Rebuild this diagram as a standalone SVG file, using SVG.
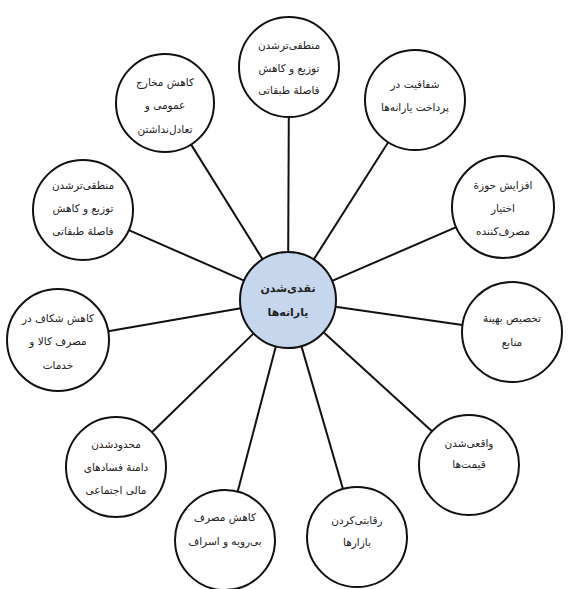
<svg xmlns="http://www.w3.org/2000/svg" width="569" height="589" viewBox="0 0 569 589">
<style>
.n circle{fill:#fff;stroke:#111;stroke-width:2}
.c circle{fill:#c6d6ec;stroke:#111;stroke-width:2}
text{font-family:"DejaVu Sans",sans-serif;font-size:10.5px;fill:#222;text-anchor:middle}
.c text{font-weight:bold;font-size:11px}
#spokes line{stroke:#111;stroke-width:2}
</style>
<rect width="569" height="589" fill="#fff"/>
<g id="spokes">
<line x1="288.2" y1="252" x2="288.8" y2="117"/>
<line x1="313.7" y1="259.5" x2="388.2" y2="142.2"/>
<line x1="332.1" y1="280.9" x2="456.2" y2="227.2"/>
<line x1="335.5" y1="306.8" x2="462.5" y2="324.9"/>
<line x1="323.5" y1="332.3" x2="432" y2="431.3"/>
<line x1="301.4" y1="346.1" x2="343" y2="489"/>
<line x1="275.8" y1="346.4" x2="237.7" y2="491.6"/>
<line x1="253.6" y1="333.4" x2="151.9" y2="432.2"/>
<line x1="240.7" y1="308.2" x2="108.2" y2="331.3"/>
<line x1="244.1" y1="280.7" x2="128.8" y2="230.1"/>
<line x1="262.6" y1="259.3" x2="191" y2="144.4"/>
</g>
<g id="center" class="c"><circle cx="288" cy="300" r="48"/>
<text x="288" y="292">نقدی‌شدن</text><text x="288" y="316">یارانه‌ها</text></g>
<g id="n1" class="n"><circle cx="289" cy="67" r="50"/>
<text x="289" y="49">منطقی‌ترشدن</text><text x="289" y="72">توزیع و کاهش</text><text x="289" y="94">فاصلة طبقاتی</text></g>
<g id="n2" class="n"><circle cx="415" cy="100" r="50"/>
<text x="415" y="88">شفافیت در</text><text x="415" y="111">پرداخت یارانه‌ها</text></g>
<g id="n3" class="n"><circle cx="503" cy="207" r="51"/>
<text x="503" y="189">افزایش حوزة</text><text x="503" y="212">اختیار</text><text x="503" y="235">مصرف‌کننده</text></g>
<g id="n4" class="n"><circle cx="512" cy="332" r="50"/>
<text x="512" y="322">تخصیص بهینة</text><text x="512" y="346">منابع</text></g>
<g id="n5" class="n"><circle cx="469" cy="465" r="50"/>
<text x="469" y="447">واقعی‌شدن</text><text x="469" y="468">قیمت‌ها</text></g>
<g id="n6" class="n"><circle cx="357" cy="537" r="50"/>
<text x="357" y="524">رقابتی‌کردن</text><text x="357" y="546">بازارها</text></g>
<g id="n7" class="n"><circle cx="225" cy="540" r="50"/>
<text x="225" y="521">کاهش مصرف</text><text x="225" y="545">بی‌رویه و اسراف</text></g>
<g id="n8" class="n"><circle cx="116" cy="467" r="50"/>
<text x="116" y="448">محدودشدن</text><text x="116" y="471">دامنة فسادهای</text><text x="116" y="494">مالی اجتماعی</text></g>
<g id="n9" class="n"><circle cx="58" cy="340" r="51"/>
<text x="58" y="322">کاهش شکاف در</text><text x="58" y="345">مصرف کالا و</text><text x="58" y="369">خدمات</text></g>
<g id="n10" class="n"><circle cx="83" cy="210" r="50"/>
<text x="83" y="189">منطقی‌ترشدن</text><text x="83" y="212">توزیع و کاهش</text><text x="83" y="235">فاصلة طبقاتی</text></g>
<g id="n11" class="n"><circle cx="165" cy="103" r="49"/>
<text x="165" y="86">کاهش مخارج</text><text x="165" y="109">عمومی و</text><text x="165" y="133">تعادل‌نداشتن</text></g>
</svg>
